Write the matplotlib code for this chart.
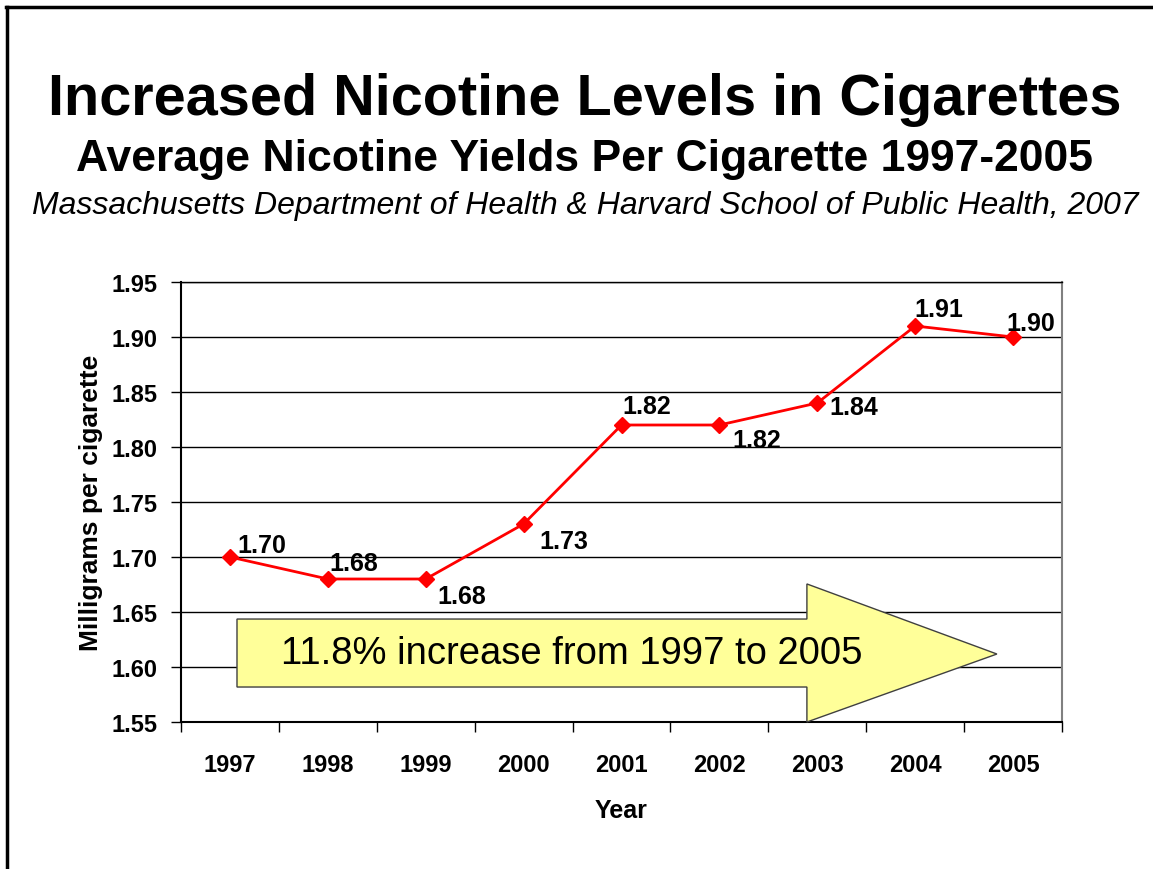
import matplotlib.pyplot as plt
from matplotlib.patches import Polygon
from matplotlib.lines import Line2D

plt.rcParams['font.family'] = ['Liberation Sans', 'DejaVu Sans']

# datos
years = ['1997', '1998', '1999', '2000', '2001', '2002', '2003', '2004', '2005']
nicotine = [1.70, 1.68, 1.68, 1.73, 1.82, 1.82, 1.84, 1.91, 1.90]
y_ticks = [1.55, 1.60, 1.65, 1.70, 1.75, 1.80, 1.85, 1.90, 1.95]

# posicion de cada etiqueta (pixeles respecto al punto)
label_offsets = [(7, 12), (2, 16), (12, -17), (16, -17), (1, 19),
                 (13, -15), (12, -4), (-1, 17), (-7, 14)]

fig = plt.figure(figsize=(11.53, 8.7), dpi=100)

# borde de la diapositiva
fig.add_artist(Line2D([7 / 1153, 7 / 1153], [0, 1 - 8 / 870], color='black', lw=2.5,
                      transform=fig.transFigure))
fig.add_artist(Line2D([6 / 1153, 1], [1 - 8 / 870, 1 - 8 / 870], color='black', lw=2.5,
                      transform=fig.transFigure))

# titulos
fig.text(0.507, 1 - 100 / 870, 'Increased Nicotine Levels in Cigarettes',
         ha='center', va='center', fontsize=41.5, fontweight='bold')
fig.text(0.507, 1 - 160 / 870, 'Average Nicotine Yields Per Cigarette 1997-2005',
         ha='center', va='center', fontsize=32, fontweight='bold')
fig.text(0.508, 1 - 206 / 870,
         'Massachusetts Department of Health & Harvard School of Public Health, 2007',
         ha='center', va='center', fontsize=23, style='italic')

ax = fig.add_axes([181 / 1153, 1 - 723 / 870, (1062 - 181) / 1153, (723 - 283) / 870])
x = list(range(len(years)))

ax.set_xlim(-0.5, len(years) - 0.5)
ax.set_ylim(1.55, 1.95)
ax.set_yticks(y_ticks)
ax.set_yticklabels(['%.2f' % v for v in y_ticks], fontsize=17, fontweight='bold')
ax.yaxis.grid(True, color='black', lw=1)
ax.set_axisbelow(True)

ax.set_xticks(x)
ax.set_xticklabels(years, fontsize=17, fontweight='bold')
ax.set_xticks([i - 0.5 for i in range(len(years) + 1)], minor=True)
ax.tick_params(axis='x', which='major', length=0, pad=22)
ax.tick_params(axis='x', which='minor', length=7, width=1, direction='out')
ax.tick_params(axis='y', length=7, width=1, direction='out', pad=10)

for s in ['left', 'bottom', 'top']:
    ax.spines[s].set_color('black')
    ax.spines[s].set_linewidth(1.5)
ax.spines['top'].set_linewidth(1)
ax.spines['right'].set_color('gray')
ax.spines['right'].set_linewidth(1.5)

ax.plot(x, nicotine, color='red', lw=2, marker='D', markersize=8, zorder=3, clip_on=False)

for xi, v, off in zip(x, nicotine, label_offsets):
    ax.annotate('%.2f' % v, (xi, v), xytext=off, textcoords='offset pixels',
                ha='left', va='center', fontsize=18, fontweight='bold')

# flecha amarilla
arrow = [(0.072, 1.6436), (5.894, 1.6436), (5.894, 1.6755), (7.835, 1.6118),
         (5.894, 1.55), (5.894, 1.5818), (0.072, 1.5818)]
ax.add_patch(Polygon(arrow, closed=True, facecolor='#FFFF99', edgecolor='#404040',
                     lw=1, zorder=4, clip_on=False))
ax.text(3.49, 1.6125, '11.8% increase from 1997 to 2005', ha='center', va='center',
        fontsize=27.5, zorder=5)

ax.set_xlabel('Year', fontsize=18, fontweight='bold', labelpad=16)
ax.set_ylabel('Milligrams per cigarette', fontsize=19, fontweight='bold', labelpad=6)

fig.savefig('out.png', dpi=100)
